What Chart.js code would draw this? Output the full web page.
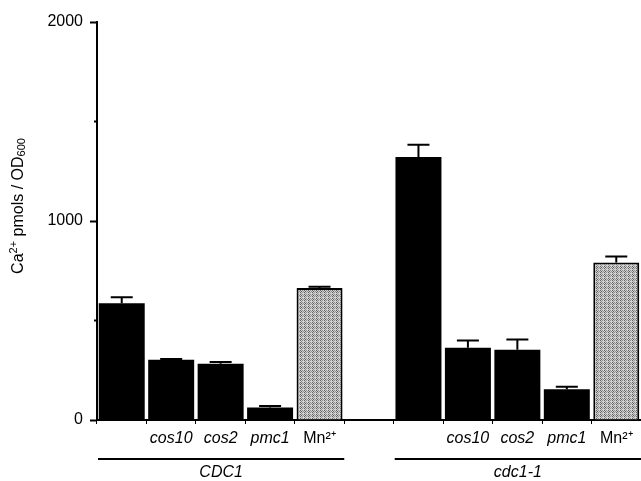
<!DOCTYPE html>
<html>
<head>
<meta charset="utf-8">
<script src="https://cdn.jsdelivr.net/npm/chart.js@4/dist/chart.umd.min.js"></script>
<style>
  html, body { margin: 0; padding: 0; background: #fff; }
  #wrap { width: 641px; height: 481px; }
</style>
</head>
<body>
<div id="wrap"><canvas id="caChart"></canvas></div>
<script>
// Ca2+ accumulation per strain / condition
const categories = ['', 'cos10', 'cos2', 'pmc1', 'Mn²⁺', '', '', 'cos10', 'cos2', 'pmc1', 'Mn²⁺'];
const caValues = [587, 303, 283, 63, 663, null, 1322, 363, 353, 155, 792];
const caErrors = [30, 4, 9, 7, 7, null, 61, 37, 52, 12, 30];
const groupNames = ['CDC1', 'cdc1-1'];
const groupStart = [0, 6];
const groupEnd = [4, 10];
const yTicks = [0, 1000, 2000];
const yMinorTicks = [500, 1500];

const FONT = '"Liberation Sans", Arial, Helvetica, sans-serif';

// grey dotted fill for the Mn2+ bars
function makePattern() {
    const c = document.createElement('canvas');
    c.width = 4; c.height = 4;
    const g = c.getContext('2d');
    g.fillStyle = '#d2d2d2';
    g.fillRect(0, 0, 4, 4);
    const dark = [[0, 0], [2, 0], [1, 1], [0, 2], [2, 2], [3, 3], [1, 3]];
    dark.forEach(([x, y], i) => {
        g.fillStyle = i % 3 === 0 ? '#5e5e5e' : '#929292';
        g.fillRect(x, y, 1, 1);
    });
    return g.createPattern(c, 'repeat');
}
const mnFill = makePattern();

const errorBars = {
    id: 'errorBars',
    afterDatasetsDraw(chart) {
        const ctx = chart.ctx;
        const yScale = chart.scales.y;
        const meta = chart.getDatasetMeta(0);
        ctx.save();
        ctx.strokeStyle = '#000';
        ctx.lineWidth = 2;
        meta.data.forEach((bar, i) => {
            if (caValues[i] == null) return;
            const yTop = yScale.getPixelForValue(caValues[i] + caErrors[i]);
            ctx.beginPath();
            ctx.moveTo(bar.x, bar.y);
            ctx.lineTo(bar.x, yTop);
            ctx.moveTo(bar.x - 11, yTop);
            ctx.lineTo(bar.x + 11, yTop);
            ctx.stroke();
        });
        ctx.restore();
    }
};

// short minor ticks, axis title with real super/subscripts, group bars under the x axis
const extras = {
    id: 'extras',
    afterDraw(chart) {
        const ctx = chart.ctx;
        const x = chart.scales.x;
        const y = chart.scales.y;
        const half = (x.getPixelForValue(1) - x.getPixelForValue(0)) / 2;
        ctx.save();
        ctx.strokeStyle = '#000';
        ctx.fillStyle = '#000';
        ctx.lineWidth = 2;

        yMinorTicks.forEach(v => {
            const py = y.getPixelForValue(v);
            ctx.beginPath();
            ctx.moveTo(y.right - 3, py);
            ctx.lineTo(y.right, py);
            ctx.stroke();
        });

        ctx.font = 'italic 16px ' + FONT;
        ctx.textAlign = 'center';
        ctx.textBaseline = 'middle';
        groupNames.forEach((name, g) => {
            const x0 = x.getPixelForValue(groupStart[g]) - half + 1;
            const x1 = x.getPixelForValue(groupEnd[g]) + half;
            ctx.beginPath();
            ctx.moveTo(x0, 459);
            ctx.lineTo(x1, 459);
            ctx.stroke();
            ctx.fillText(name, (x0 + x1) / 2, 473);
        });

        // rotated y title: Ca2+ pmols / OD600
        const parts = [
            { t: 'Ca', size: 16, dy: 0 },
            { t: '2+', size: 11, dy: -5 },
            { t: ' pmols / OD', size: 16, dy: 0 },
            { t: '600', size: 11, dy: 3 }
        ];
        let total = 0;
        parts.forEach(p => {
            ctx.font = p.size + 'px ' + FONT;
            p.w = ctx.measureText(p.t).width;
            total += p.w;
        });
        ctx.translate(19, 206);
        ctx.rotate(-Math.PI / 2);
        ctx.textAlign = 'left';
        ctx.textBaseline = 'middle';
        let cx = -total / 2;
        parts.forEach(p => {
            ctx.font = p.size + 'px ' + FONT;
            ctx.fillText(p.t, cx, p.dy);
            cx += p.w;
        });
        ctx.restore();
    }
};

new Chart(document.getElementById('caChart'), {
    type: 'bar',
    data: {
        labels: categories,
        datasets: [{
            data: caValues,
            backgroundColor: categories.map(c => c.startsWith('Mn') ? mnFill : '#000'),
            borderColor: '#000',
            borderWidth: categories.map(c => c.startsWith('Mn') ? 2 : 0),
            borderSkipped: 'bottom',
            barPercentage: 0.93,
            categoryPercentage: 1
        }]
    },
    options: {
        responsive: true,
        maintainAspectRatio: false,
        animation: false,
        layout: { padding: { top: 22, right: 0, bottom: 0, left: 0 } },
        plugins: {
            legend: { display: false },
            tooltip: { enabled: false }
        },
        scales: {
            x: {
                grid: { drawOnChartArea: false, drawTicks: true, tickLength: 4, color: '#000', offset: true },
                border: { color: '#000', width: 2 },
                ticks: {
                    color: '#000',
                    padding: 5,
                    maxRotation: 0,
                    autoSkip: false,
                    font: (c) => ({
                        family: FONT,
                        size: 16,
                        style: (categories[c.index] || '').startsWith('Mn') ? 'normal' : 'italic'
                    })
                },
                afterFit: (s) => { s.height = 61; }
            },
            y: {
                min: 0,
                max: 2000,
                grid: {
                    drawOnChartArea: false,
                    drawTicks: true,
                    tickLength: 7,
                    tickWidth: 2,
                    tickColor: (c) => yTicks.includes(c.tick.value) ? '#000' : 'rgba(0,0,0,0)'
                },
                border: { color: '#000', width: 2 },
                ticks: {
                    stepSize: 500,
                    color: '#000',
                    padding: 7,
                    font: { family: FONT, size: 16 },
                    callback: (v) => yTicks.includes(v) ? String(v) : ''
                },
                title: { display: false },
                afterFit: (s) => { s.width = 97; }
            }
        }
    },
    plugins: [errorBars, extras]
});
</script>
</body>
</html>
